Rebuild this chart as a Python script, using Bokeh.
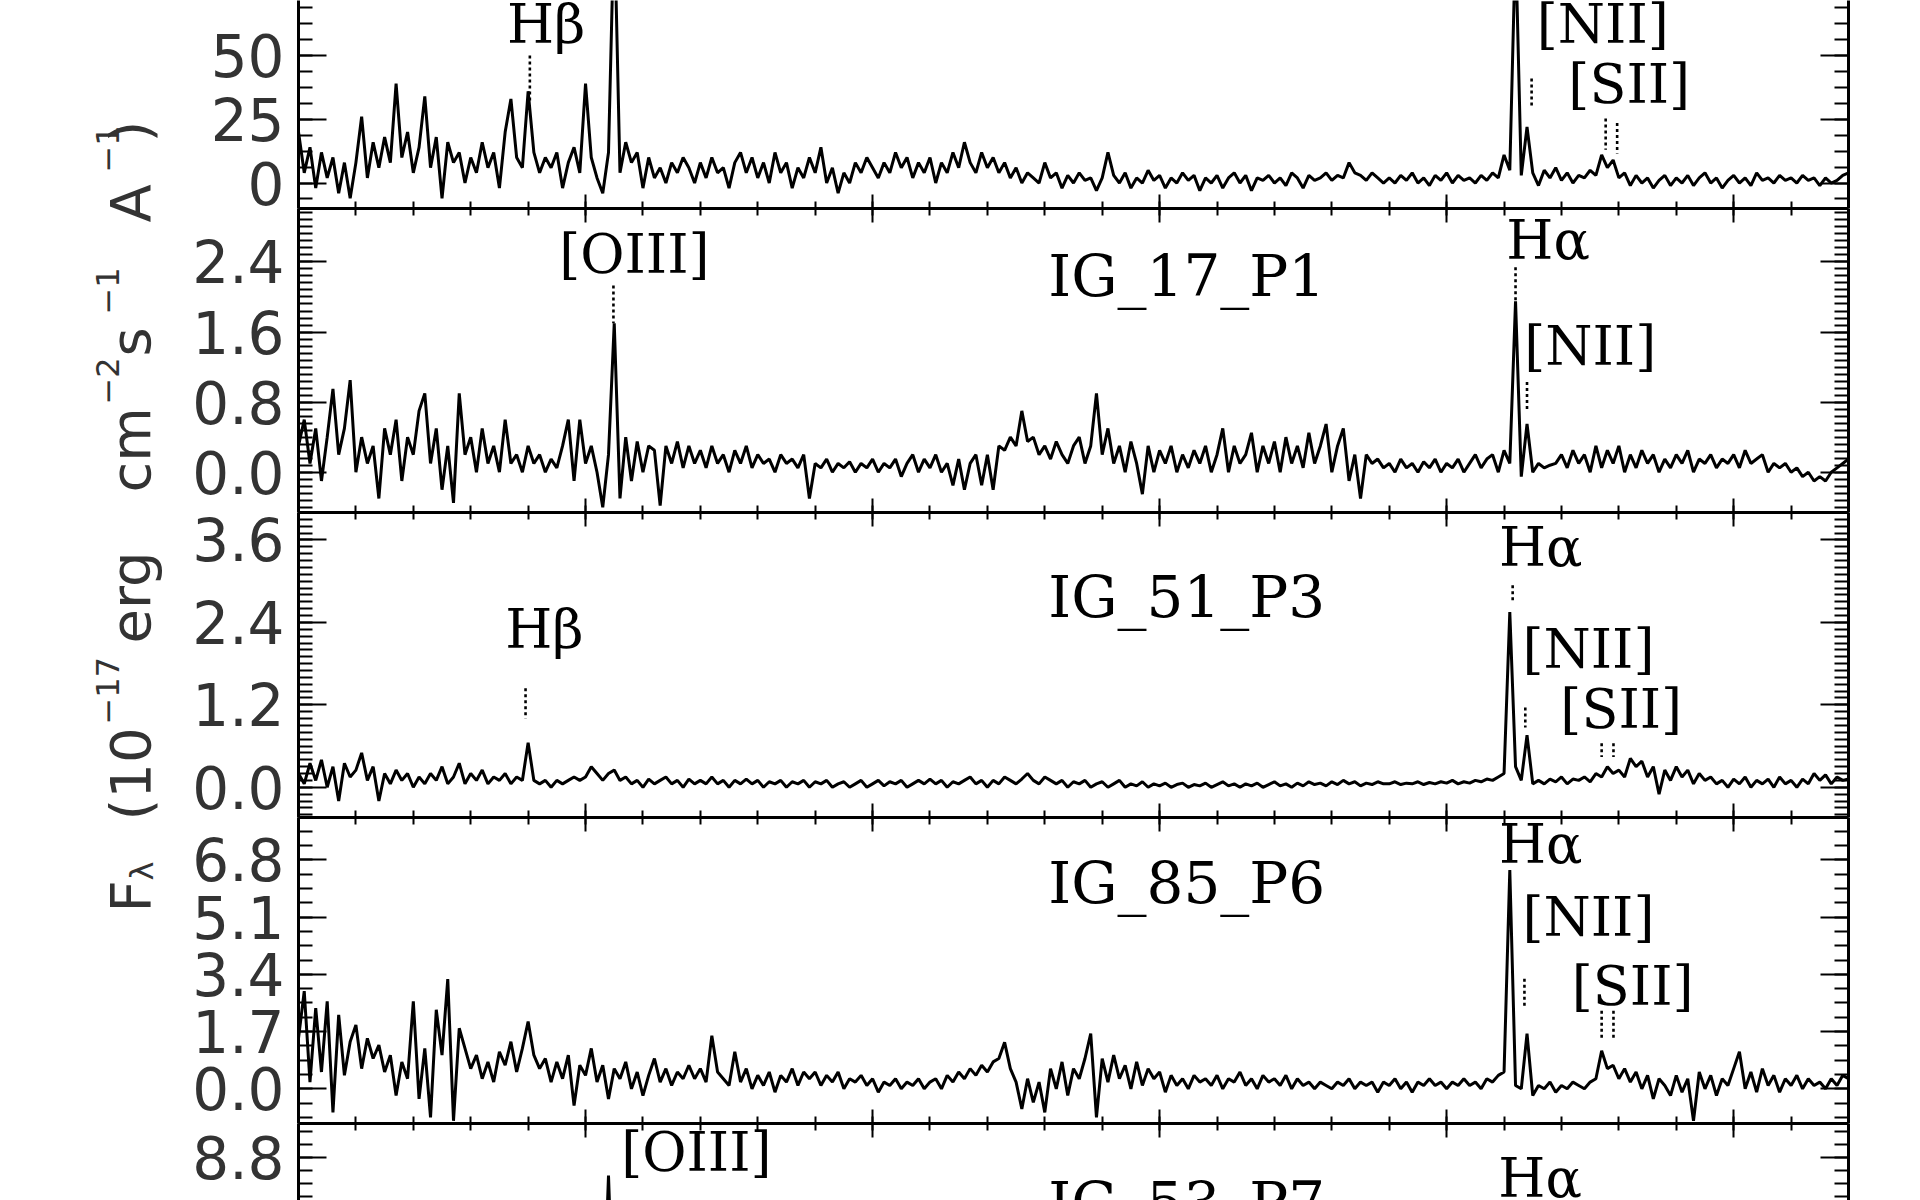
import numpy as np
from bokeh.plotting import figure
from bokeh.layouts import row, column
from bokeh.models import (Range1d, LinearAxis, SingleIntervalTicker, PrintfTickFormatter,
                          CustomJSTickFormatter, ColumnDataSource, Label)
from bokeh.core.properties import value
from bokeh.embed import file_html
from bokeh.resources import INLINE

# ---------------- data ----------------
# observed wavelength sampling grid (Angstrom)
WAVE = np.arange(4500, 7201, 10)

# top panel (name cut off in the picture)
FLUX_TOP = [
    20, 4, 14, -2, 12, 2, 10, -4, 8, -6,
    8, 26, 2, 16, 6, 18, 8, 39, 10, 20,
    4, 14, 34, 6, 18, -6, 16, 8, 12, 0,
    10, 4, 16, 6, 12, -2, 20, 33, 10, 6,
    36, 12, 4, 10, 6, 12, -2, 8, 14, 4,
    39, 10, 2, -4, 12, 105, 4, 16, 8, 12,
    -2, 10, 2, 6, 0, 8, 4, 10, 6, 0,
    8, 2, 10, 4, 6, -2, 8, 12, 4, 10,
    2, 8, 0, 12, 4, 8, -2, 6, 2, 10,
    4, 14, 0, 6, -4, 4, 0, 8, 4, 10,
    6, 2, 8, 4, 12, 6, 10, 2, 8, 4,
    10, 0, 8, 4, 12, 6, 16, 8, 4, 12,
    6, 10, 4, 8, 2, 6, 0, 4, 2, 0,
    8, 2, 4, -2, 3, 0, 4, 1, 2, -3,
    2, 12, 3, 0, 4, -2, 2, 0, 5, 1,
    3, -2, 2, 0, 4, 1, 3, -3, 2, 0,
    3, -2, 2, 4, 0, 3, -3, 2, 1, 3,
    0, 2, -1, 4, 2, -2, 3, 1, 2, 4,
    1, 3, 2, 8, 4, 3, 1, 4, 2, 0,
    2, 0, 3, 1, 4, 0, 2, -1, 3, 1,
    4, 0, 3, 1, 2, 0, 3, 1, 4, 2,
    11, 5, 95, 3, 22, 4, -1, 5, 2, 6,
    1, 4, 0, 3, 2, 5, 3, 11, 6, 9,
    2, 4, -1, 3, 0, 2, -2, 1, 3, -1,
    2, 0, 3, -1, 2, 4, 0, 2, -2, 1,
    3, 0, 2, -1, 4, 1, 2, 0, 3, 1,
    2, 0, 3, 1, 2, -1, 2, 0, 1, 3,
    4,
]

FLUX_IG17 = [
    0.3, 0.6, 0.1, 0.5, -0.1, 0.4, 0.95, 0.2, 0.5, 1.05,
    0.0, 0.4, 0.1, 0.3, -0.3, 0.5, 0.2, 0.6, -0.1, 0.4,
    0.2, 0.7, 0.9, 0.1, 0.5, -0.2, 0.3, -0.35, 0.9, 0.2,
    0.4, 0.0, 0.5, 0.1, 0.3, 0.0, 0.6, 0.1, 0.2, 0.0,
    0.3, 0.1, 0.2, 0.0, 0.15, 0.05, 0.3, 0.6, -0.1, 0.6,
    0.1, 0.3, 0.0, -0.4, 0.2, 1.7, -0.3, 0.4, -0.1, 0.35,
    0.0, 0.3, 0.25, -0.38, 0.3, 0.1, 0.35, 0.05, 0.3, 0.1,
    0.25, 0.05, 0.3, 0.1, 0.2, 0.0, 0.25, 0.1, 0.3, 0.05,
    0.2, 0.1, 0.15, 0.0, 0.2, 0.1, 0.15, 0.05, 0.2, -0.3,
    0.1, 0.05, 0.15, 0.0, 0.1, 0.05, 0.12, 0.0, 0.1, 0.05,
    0.15, 0.0, 0.1, 0.05, 0.15, -0.05, 0.1, 0.2, 0.0, 0.15,
    0.05, 0.2, 0.0, 0.1, -0.15, 0.15, -0.2, 0.1, 0.2, -0.15,
    0.2, -0.2, 0.3, 0.25, 0.4, 0.3, 0.7, 0.35, 0.4, 0.2,
    0.3, 0.15, 0.35, 0.2, 0.1, 0.3, 0.4, 0.1, 0.3, 0.9,
    0.2, 0.5, 0.1, 0.3, 0.0, 0.35, 0.1, -0.25, 0.3, 0.0,
    0.25, 0.1, 0.3, 0.0, 0.2, 0.05, 0.25, 0.1, 0.3, 0.0,
    0.2, 0.5, 0.0, 0.3, 0.1, 0.2, 0.45, 0.0, 0.3, 0.1,
    0.35, 0.0, 0.4, 0.1, 0.3, 0.05, 0.45, 0.1, 0.3, 0.55,
    0.0, 0.3, 0.5, -0.1, 0.2, -0.3, 0.2, 0.1, 0.15, 0.05,
    0.1, 0.0, 0.15, 0.05, 0.1, 0.0, 0.12, 0.05, 0.15, 0.0,
    0.1, 0.05, 0.15, 0.0, 0.1, 0.2, 0.05, 0.15, 0.2, 0.0,
    0.25, 0.1, 1.95, -0.05, 0.55, 0.0, 0.1, 0.05, 0.08, 0.1,
    0.2, 0.05, 0.25, 0.1, 0.2, 0.0, 0.3, 0.05, 0.25, 0.1,
    0.3, 0.0, 0.2, 0.05, 0.25, 0.1, 0.2, 0.0, 0.15, 0.05,
    0.2, 0.1, 0.25, 0.0, 0.15, 0.1, 0.2, 0.05, 0.15, 0.1,
    0.2, 0.05, 0.25, 0.1, 0.15, 0.2, 0.0, 0.1, 0.05, 0.1,
    0.0, 0.05, -0.05, 0.0, -0.1, -0.05, -0.1, 0.0, 0.05, 0.1,
    0.15,
]

FLUX_IG51 = [
    0.2, 0.05, 0.35, 0.1, 0.4, 0.0, 0.3, -0.2, 0.35, 0.15,
    0.25, 0.5, 0.1, 0.3, -0.2, 0.2, 0.05, 0.25, 0.1, 0.2,
    0.0, 0.15, 0.05, 0.2, 0.1, 0.3, 0.05, 0.15, 0.35, 0.05,
    0.2, 0.1, 0.25, 0.05, 0.15, 0.1, 0.2, 0.05, 0.15, 0.1,
    0.65, 0.1, 0.05, 0.1, 0.0, 0.1, 0.05, 0.1, 0.15, 0.1,
    0.15, 0.3, 0.2, 0.1, 0.2, 0.25, 0.1, 0.15, 0.05, 0.1,
    0.0, 0.12, 0.05, 0.1, 0.15, 0.05, 0.1, 0.0, 0.12, 0.05,
    0.1, 0.05, 0.15, 0.05, 0.1, 0.0, 0.1, 0.05, 0.12, 0.05,
    0.1, 0.0, 0.08, 0.05, 0.1, 0.0, 0.08, 0.05, 0.1, 0.0,
    0.08, 0.05, 0.1, 0.0, 0.05, 0.08, 0.0, 0.05, 0.1, 0.0,
    0.05, 0.1, 0.02, 0.08, 0.05, 0.1, 0.0, 0.05, 0.1, 0.05,
    0.12, 0.05, 0.1, 0.0, 0.08, 0.05, 0.1, 0.15, 0.05, 0.1,
    0.0, 0.1, 0.05, 0.15, 0.1, 0.05, 0.12, 0.2, 0.1, 0.05,
    0.15, 0.1, 0.05, 0.1, 0.0, 0.08, 0.05, 0.1, 0.0, 0.05,
    0.08, 0.0, 0.05, 0.1, 0.0, 0.05, 0.02, 0.08, 0.0, 0.05,
    0.02, 0.06, 0.0, 0.04, 0.06, 0.0, 0.04, 0.02, 0.06, 0.0,
    0.04, 0.08, 0.02, 0.05, 0.0, 0.05, 0.02, 0.06, 0.0, 0.04,
    0.08, 0.02, 0.05, 0.0, 0.06, 0.02, 0.08, 0.04, 0.06, 0.02,
    0.08, 0.04, 0.1, 0.05, 0.08, 0.02, 0.06, 0.04, 0.08, 0.05,
    0.05, 0.08, 0.04, 0.06, 0.05, 0.08, 0.04, 0.07, 0.05, 0.08,
    0.06, 0.1, 0.05, 0.08, 0.06, 0.1, 0.08, 0.12, 0.1, 0.15,
    0.2, 2.55, 0.3, 0.1, 0.76, 0.05, 0.1, 0.05, 0.12, 0.08,
    0.15, 0.05, 0.12, 0.1, 0.15, 0.08, 0.2, 0.15, 0.3, 0.2,
    0.25, 0.15, 0.42, 0.3, 0.38, 0.15, 0.3, -0.1, 0.25, 0.1,
    0.3, 0.15, 0.25, 0.05, 0.2, 0.1, 0.15, 0.05, 0.1, 0.0,
    0.12, 0.05, 0.15, 0.0, 0.1, 0.05, 0.12, 0.0, 0.15, 0.05,
    0.1, 0.0, 0.12, 0.05, 0.2, 0.1, 0.18, 0.05, 0.15, 0.1,
    0.12,
]

FLUX_IG85 = [
    1.5, 2.9, 0.2, 2.4, 0.5, 2.6, -0.7, 2.2, 0.4, 1.4,
    1.9, 0.6, 1.5, 0.9, 1.3, 0.5, 1.0, -0.2, 0.8, 0.3,
    2.6, -0.3, 1.2, -0.85, 2.35, 1.0, 3.26, -0.95, 1.8, 1.2,
    0.6, 1.0, 0.3, 0.8, 0.2, 1.1, 0.7, 1.4, 0.5, 1.2,
    2.0, 1.0, 0.6, 0.9, 0.2, 0.8, 0.3, 1.0, -0.5, 0.7,
    0.4, 1.2, 0.2, 0.7, -0.3, 0.6, 0.3, 0.8, 0.0, 0.5,
    -0.2, 0.4, 0.9, 0.2, 0.6, 0.1, 0.5, 0.3, 0.7, 0.3,
    0.6, 0.2, 1.58, 0.5, 0.3, 0.1, 1.1, 0.2, 0.6, 0.0,
    0.4, 0.1, 0.5, -0.1, 0.4, 0.2, 0.6, 0.1, 0.5, 0.3,
    0.5, 0.1, 0.4, 0.2, 0.5, 0.0, 0.3, 0.2, 0.4, 0.1,
    0.3, -0.1, 0.2, 0.1, 0.3, 0.0, 0.2, 0.1, 0.3, 0.0,
    0.2, 0.3, 0.0, 0.4, 0.2, 0.5, 0.3, 0.6, 0.4, 0.7,
    0.5, 0.8, 0.9, 1.38, 0.6, 0.2, -0.6, 0.3, -0.4, 0.2,
    -0.7, 0.6, 0.0, 0.8, -0.2, 0.6, 0.3, 0.9, 1.64, -0.85,
    0.9, 0.2, 1.0, 0.3, 0.7, 0.0, 0.8, 0.1, 0.6, 0.3,
    0.5, -0.1, 0.4, 0.1, 0.3, 0.0, 0.4, 0.2, 0.3, 0.1,
    0.4, 0.0, 0.3, 0.2, 0.5, 0.1, 0.3, 0.0, 0.4, 0.2,
    0.3, 0.1, 0.4, 0.0, 0.3, 0.1, 0.2, 0.0, 0.2, 0.1,
    0.0, 0.2, 0.1, 0.3, 0.0, 0.2, 0.1, 0.2, -0.1, 0.2,
    0.1, 0.3, 0.0, 0.2, -0.1, 0.2, 0.1, 0.3, 0.1, 0.2,
    0.0, 0.2, 0.1, 0.3, 0.1, 0.2, 0.0, 0.3, 0.2, 0.4,
    0.5, 6.5, 0.1, 0.0, 1.64, -0.2, 0.1, 0.0, 0.2, -0.1,
    0.1, 0.0, 0.2, 0.1, 0.0, 0.2, 0.3, 1.13, 0.6, 0.7,
    0.3, 0.6, 0.2, 0.5, 0.0, 0.4, -0.3, 0.3, 0.1, -0.2,
    0.4, -0.1, 0.3, -0.95, 0.5, 0.0, 0.4, -0.2, 0.3, 0.1,
    0.6, 1.1, 0.0, 0.5, -0.1, 0.6, 0.1, 0.4, -0.1, 0.3,
    0.1, 0.4, 0.0, 0.3, 0.1, 0.2, 0.0, 0.3, 0.1, 0.4,
    0.3,
]

# bottom panel: only the top of its frame is visible
WAVE_IG53 = [4500, 4800, 5030, 5040, 5050, 5300, 6000, 6600, 6610, 6620, 6630, 6640, 6650, 7200]
FLUX_IG53 = [1.2, 1.0, 1.1, 8.04, 1.0, 0.8, 0.6, 0.8, 0.9, 6.9, 0.7, 2.0, 0.6, 0.5]

PANEL_WAVES = [WAVE, WAVE, WAVE, WAVE, WAVE_IG53]
PANEL_FLUX = [FLUX_TOP, FLUX_IG17, FLUX_IG51, FLUX_IG85, FLUX_IG53]
YRANGES = [(-10.0, 71.6), (-0.46, 3.01), (-0.44, 4.0), (-1.03, 8.06), (6.98, 10.24)]
YTICK_STEP = [25, 0.8, 1.2, 1.7, 2.2]
YTICK_MINOR = [4, 10, 12, 4, 4]
YTICK_FMT = ["%d", "%.1f", "%.1f", "%.1f", "%.1f"]

# line / object labels: (text, wavelength, flux of baseline)
LINE_LABELS = [
    [("Hβ", 4863, 54.0), ("[NII]", 6657, 54.0), ("[SII]", 6712, 30.4)],
    [("[OIII]", 4954, 2.25), ("Hα", 6604, 2.40), ("[NII]", 6635, 1.20)],
    [("Hβ", 4860, 1.99), ("Hα", 6591, 3.19), ("[NII]", 6632, 1.70), ("[SII]", 6698, 0.83)],
    [("Hα", 6591, 6.63), ("[NII]", 6632, 4.46), ("[SII]", 6718, 2.41)],
    [("[OIII]", 5062, 8.12), ("Hα", 6590, 7.02)],
]
OBJECT_LABELS = [
    None,
    ("IG_17_P1", 5806, 2.0),
    ("IG_51_P3", 5806, 2.46),
    ("IG_85_P6", 5806, 5.50),
    ("IG_53_P7", 5806, 6.0),
]
# dotted line markers: (wavelength, upper end, lower end)
LINE_MARKS = [
    [(4903, 50.0, 32.4), (6648, 41.0, 29.2), (6777, 25.3, 13.0), (6797, 23.5, 11.6)],
    [(5048.6, 2.13, 1.70), (6620, 2.34, 1.92), (6640, 1.03, 0.72)],
    [(4895.5, 1.44, 1.0), (6615, 2.94, 2.68), (6637, 1.16, 0.87), (6770, 0.64, 0.44), (6790.6, 0.64, 0.44)],
    [(6635.5, 3.27, 2.47), (6770, 2.32, 1.43), (6790.6, 2.32, 1.43)],
    [],
]

X_START, X_END = 4500, 7200
X_MAJOR, X_MINOR = 500, 5

# ---------------- layout / style ----------------
PANEL_HEIGHTS = [208, 304, 305, 306, 77]
PANEL_WIDTH = 1722
TITLE_WIDTH = 178
TOTAL_H = sum(PANEL_HEIGHTS)
TICK_FONT = "DejaVu Sans"
TICK_COLOR = "#333333"
LABEL_FONT = "DejaVu Serif"
LABEL_RAISE_PX = 21
TICK_STANDOFF = 14

blank = CustomJSTickFormatter(code="return ''")
x_range = Range1d(X_START, X_END)


def y_axis(step, nminor, fmt, labelled):
    return LinearAxis(
        ticker=SingleIntervalTicker(interval=step, num_minor_ticks=nminor),
        formatter=PrintfTickFormatter(format=fmt) if labelled else blank,
        major_tick_in=28, major_tick_out=0, minor_tick_in=14, minor_tick_out=0,
        axis_line_width=3, axis_line_color="black",
        major_tick_line_width=2, minor_tick_line_width=2,
        major_tick_line_color="black", minor_tick_line_color="black",
        major_label_text_font=TICK_FONT,
        major_label_text_font_size="58px" if labelled else "0px",
        major_label_text_color=TICK_COLOR,
        major_label_standoff=TICK_STANDOFF if labelled else 0,
    )


def x_axis():
    return LinearAxis(
        ticker=SingleIntervalTicker(interval=X_MAJOR, num_minor_ticks=X_MINOR),
        formatter=blank,
        major_tick_in=14, major_tick_out=0, minor_tick_in=7, minor_tick_out=0,
        axis_line_width=3, axis_line_color="black",
        major_tick_line_width=2, minor_tick_line_width=2,
        major_label_text_font_size="0px", major_label_standoff=0,
    )


panels = []
n = len(PANEL_HEIGHTS)
for i in range(n):
    y0, y1 = YRANGES[i]
    raise_dy = LABEL_RAISE_PX * (y1 - y0) / PANEL_HEIGHTS[i]
    p = figure(width=PANEL_WIDTH, height=PANEL_HEIGHTS[i], x_range=x_range,
               y_range=Range1d(y0, y1), output_backend="svg", toolbar_location=None,
               x_axis_location=None, y_axis_location=None,
               min_border_left=120, min_border_right=52, min_border_top=0, min_border_bottom=0)
    p.outline_line_color = None
    p.grid.visible = False
    p.add_layout(y_axis(YTICK_STEP[i], YTICK_MINOR[i], YTICK_FMT[i], True), "left")
    p.add_layout(y_axis(YTICK_STEP[i], YTICK_MINOR[i], YTICK_FMT[i], False), "right")
    if i > 0:
        p.add_layout(x_axis(), "above")
    if i < n - 1:
        p.add_layout(x_axis(), "below")

    p.line(x=list(PANEL_WAVES[i]), y=PANEL_FLUX[i], line_color="black", line_width=3)

    marks = LINE_MARKS[i]
    if marks:
        ms = ColumnDataSource(dict(x=[m[0] for m in marks], y0=[m[1] for m in marks],
                                   y1=[m[2] for m in marks]))
        p.segment(x0="x", y0="y0", x1="x", y1="y1", source=ms, line_color="black",
                  line_width=2.6, line_dash="3 3")

    for lab in LINE_LABELS[i]:
        p.add_layout(Label(x=lab[1], y=lab[2] + raise_dy, text=lab[0],
                           text_font=LABEL_FONT, text_font_size="54px", text_color="black",
                           text_align="left", text_baseline="alphabetic"))
    obj = OBJECT_LABELS[i]
    if obj is not None:
        p.add_layout(Label(x=obj[1], y=obj[2] + raise_dy, text=obj[0],
                           text_font=LABEL_FONT, text_font_size="58px", text_color="black",
                           text_align="left", text_baseline="alphabetic"))
    panels.append(p)

# ---- shared y-axis title (rotated), drawn on a narrow strip in pixel units ----
TITLE_MAIN = [("F", 130, 912), ("(10", 130, 820), ("erg", 130, 643), ("cm", 130, 492),
              ("s", 130, 356), ("A", 130, 222), (")", 130, 142)]
TITLE_SMALL = [("λ", 141, 880), ("−17", 107, 724), ("−2", 107, 404), ("−1", 107, 314),
               ("−1", 107, 172)]

t = figure(width=TITLE_WIDTH, height=TOTAL_H, x_range=Range1d(0, TITLE_WIDTH),
           y_range=Range1d(TOTAL_H, 0), output_backend="svg", toolbar_location=None,
           x_axis_location=None, y_axis_location=None, min_border=0)
t.outline_line_color = None
t.grid.visible = False
for pieces, size in ((TITLE_MAIN, "56px"), (TITLE_SMALL, "32px")):
    src = ColumnDataSource(dict(x=[q[1] for q in pieces], y=[q[2] for q in pieces],
                                text=[q[0] for q in pieces]))
    t.text(x="x", y="y", text="text", source=src, angle=np.pi / 2,
           text_font=value(TICK_FONT), text_font_size=size, text_color=TICK_COLOR,
           text_align="left", text_baseline="alphabetic")

layout = row(t, column(*panels, spacing=0), spacing=0)
open("out.html", "w").write(file_html(layout, INLINE))
